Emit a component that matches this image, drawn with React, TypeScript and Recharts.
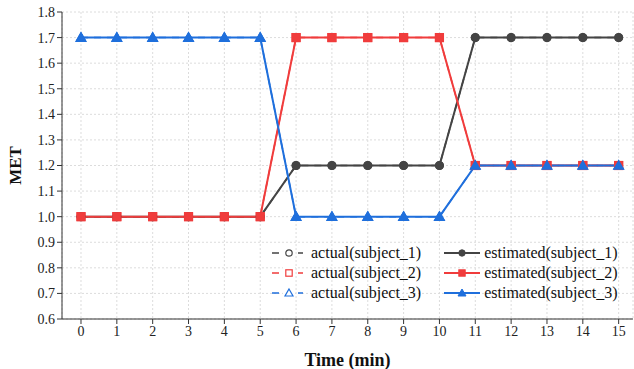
import React from 'react';
import { LineChart, Line, XAxis, YAxis, CartesianGrid } from 'recharts';

const minutes = [0, 1, 2, 3, 4, 5, 6, 7, 8, 9, 10, 11, 12, 13, 14, 15];
const subject1 = [1.0, 1.0, 1.0, 1.0, 1.0, 1.0, 1.2, 1.2, 1.2, 1.2, 1.2, 1.7, 1.7, 1.7, 1.7, 1.7];
const subject2 = [1.0, 1.0, 1.0, 1.0, 1.0, 1.0, 1.7, 1.7, 1.7, 1.7, 1.7, 1.2, 1.2, 1.2, 1.2, 1.2];
const subject3 = [1.7, 1.7, 1.7, 1.7, 1.7, 1.7, 1.0, 1.0, 1.0, 1.0, 1.0, 1.2, 1.2, 1.2, 1.2, 1.2];
const yTicks = [0.6, 0.7, 0.8, 0.9, 1.0, 1.1, 1.2, 1.3, 1.4, 1.5, 1.6, 1.7, 1.8];

const series = [
  { key: 's1', name: 'subject_1', values: subject1, color: '#444444', shape: 'circle' },
  { key: 's2', name: 'subject_2', values: subject2, color: '#f03c3c', shape: 'square' },
  { key: 's3', name: 'subject_3', values: subject3, color: '#1f6fdc', shape: 'triangle' },
];

const data = minutes.map((m, i) => {
  const row: Record<string, number> = { t: m };
  series.forEach((s) => {
    row[s.key] = s.values[i];
    row[s.key + '_a'] = s.values[i];
  });
  return row;
});

const FONT = '"Liberation Serif", "Times New Roman", serif';

function Marker({ cx, cy, shape, color, hollow, size = 1 }: any) {
  if (cx == null || cy == null) return null;
  const fill = hollow ? '#fff' : color;
  const sw = hollow ? 1.2 : 1;
  if (shape === 'circle') {
    return <circle cx={cx} cy={cy} r={4 * size} fill={fill} stroke={color} strokeWidth={sw} />;
  }
  if (shape === 'square') {
    const h = 4 * size;
    return <rect x={cx - h} y={cy - h} width={h * 2} height={h * 2} fill={fill} stroke={color} strokeWidth={sw} />;
  }
  const r = 5 * size;
  return (
    <polygon
      points={`${cx},${cy - r} ${cx + r},${cy + r * 0.75} ${cx - r},${cy + r * 0.75}`}
      fill={fill}
      stroke={color}
      strokeWidth={sw}
    />
  );
}

function LegendBox() {
  return (
    <div
      style={{
        position: 'absolute',
        left: 268,
        top: 243,
        fontFamily: FONT,
        fontSize: 16,
        lineHeight: '20px',
        color: '#111',
        display: 'grid',
        gridTemplateColumns: 'auto auto',
        columnGap: 21,
      }}
    >
      {series.map((s) => (
        <React.Fragment key={s.key}>
          <div style={{ display: 'flex', alignItems: 'center', whiteSpace: 'nowrap' }}>
            <svg width={43} height={20}>
              <line x1={4} y1={10} x2={35} y2={10} stroke={s.color} strokeWidth={1.5} strokeDasharray="7 6" />
              <rect x={15} y={4} width={12} height={12} fill="#fff" />
              <Marker cx={21} cy={10} shape={s.shape} color={s.color} hollow size={0.8} />
            </svg>
            <span>actual({s.name})</span>
          </div>
          <div style={{ display: 'flex', alignItems: 'center', whiteSpace: 'nowrap' }}>
            <svg width={42} height={20}>
              <line x1={2} y1={10} x2={38} y2={10} stroke={s.color} strokeWidth={2} />
              <Marker cx={20} cy={10} shape={s.shape} color={s.color} size={0.8} />
            </svg>
            <span>estimated({s.name})</span>
          </div>
        </React.Fragment>
      ))}
    </div>
  );
}

export default function App() {
  return (
    <div style={{ position: 'absolute', left: 0, top: 0, width: 634, height: 369, background: '#fff' }}>
      <LineChart width={634} height={369} data={data} margin={{ top: 12, right: 1, left: 0, bottom: 0 }}>
        <CartesianGrid stroke="#dcdcdc" strokeDasharray="2 2" />
        <XAxis
          dataKey="t"
          type="number"
          domain={[-0.53, 15.4]}
          ticks={minutes}
          height={50}
          tick={{ fontSize: 14, fill: '#222', fontFamily: FONT }}
          tickSize={5}
          stroke="#333"
          label={{
            value: 'Time (min)',
            position: 'insideBottom',
            offset: 3,
            style: { fontSize: 18, fontWeight: 'bold', fill: '#111', fontFamily: FONT },
          }}
        />
        <YAxis
          type="number"
          domain={[0.6, 1.8]}
          ticks={yTicks}
          width={62}
          tick={{ fontSize: 14, fill: '#222', fontFamily: FONT }}
          tickFormatter={(v: number) => v.toFixed(1)}
          tickSize={5}
          stroke="#333"
          label={{
            value: 'MET',
            angle: -90,
            position: 'insideLeft',
            offset: 15,
            style: { fontSize: 17, fontWeight: 'bold', fill: '#111', fontFamily: FONT, textAnchor: 'middle' },
          }}
        />
        {series.map((s) => (
          <Line
            key={s.key + '_a'}
            dataKey={s.key + '_a'}
            stroke={s.color}
            strokeWidth={1.5}
            strokeDasharray="7 6"
            isAnimationActive={false}
            dot={(p: any) => <Marker key={p.index} cx={p.cx} cy={p.cy} shape={s.shape} color={s.color} hollow />}
            activeDot={false}
          />
        ))}
        {series.map((s) => (
          <Line
            key={s.key}
            dataKey={s.key}
            stroke={s.color}
            strokeWidth={2}
            isAnimationActive={false}
            dot={(p: any) => <Marker key={p.index} cx={p.cx} cy={p.cy} shape={s.shape} color={s.color} />}
            activeDot={false}
          />
        ))}
      </LineChart>
      <LegendBox />
    </div>
  );
}
